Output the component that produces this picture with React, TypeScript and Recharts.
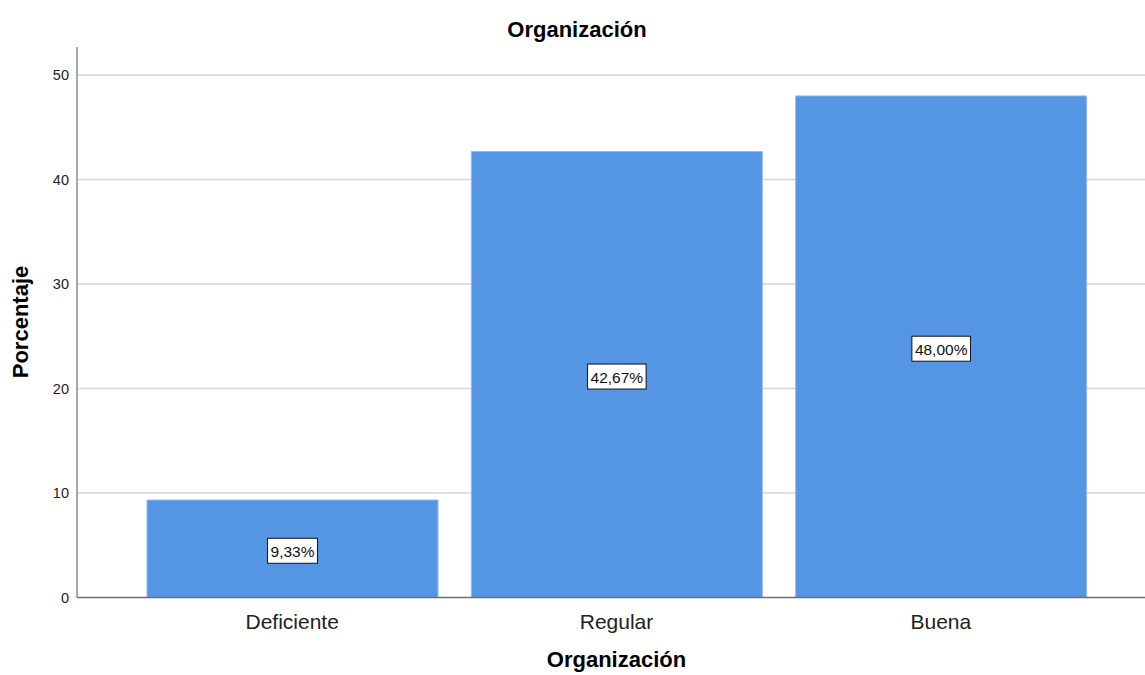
import React from 'react';
import {
  BarChart,
  Bar,
  XAxis,
  YAxis,
  CartesianGrid,
  LabelList,
  Label
} from 'recharts';

// Percent of responses per rating level
const categories = ['Deficiente', 'Regular', 'Buena'];
const percentages = [9.33, 42.67, 48.0];
const yTicks = [0, 10, 20, 30, 40, 50];
const gridValues = [10, 20, 30, 40, 50];

const FONT = 'Arial, "Liberation Sans", sans-serif';
const BAR_COLOR = '#5596e4';
const PAD_LEFT = 53;
const PAD_RIGHT = 42;

const data = categories.map((name, i) => ({ name, value: percentages[i] }));

const formatPct = (v: number): string => `${v.toFixed(2).replace('.', ',')}%`;

// measure label text so the white box hugs it
const measure = (text: string, size: number): number => {
  const ctx = document.createElement('canvas').getContext('2d');
  if (!ctx) return text.length * size * 0.56;
  ctx.font = `${size}px ${FONT}`;
  return ctx.measureText(text).width;
};

const BoxLabel = (props: any) => {
  const { x, y, width, height, value } = props;
  const text = formatPct(Number(value));
  const fs = 15.5;
  const w = measure(text, fs) + 6;
  const h = 25;
  const cx = Number(x) + Number(width) / 2;
  const cy = Number(y) + Number(height) / 2 + 2;
  return (
    <g>
      <rect x={cx - w / 2} y={cy - h / 2} width={w} height={h} fill="#fff" stroke="#111" strokeWidth={1} />
      <text x={cx} y={cy + 1} textAnchor="middle" dominantBaseline="central" fontFamily={FONT} fontSize={fs} fill="#111">
        {text}
      </text>
    </g>
  );
};

const XTitle = (props: any) => {
  const vb = props.viewBox || {};
  const cx = vb.x + PAD_LEFT + (vb.width - PAD_LEFT - PAD_RIGHT) / 2;
  return (
    <text x={cx} y={667} textAnchor="middle" fontFamily={FONT} fontSize={22} fontWeight="bold" fill="#000">
      Organización
    </text>
  );
};

const YTitle = () => (
  <text
    x={28}
    y={322}
    transform="rotate(-90, 28, 322)"
    textAnchor="middle"
    fontFamily={FONT}
    fontSize={22}
    fontWeight="bold"
    fill="#000"
  >
    Porcentaje
  </text>
);

const App: React.FC = () => {
  return (
    <div style={{ position: 'absolute', left: 0, top: 0, width: 1145, height: 675, background: '#fff' }}>
      <div
        style={{
          position: 'absolute',
          left: 0,
          top: 19,
          width: 1154,
          textAlign: 'center',
          fontFamily: FONT,
          fontSize: 22,
          lineHeight: '22px',
          fontWeight: 'bold',
          color: '#000'
        }}
      >
        Organización
      </div>
      <BarChart
        width={1145}
        height={675}
        data={data}
        margin={{ top: 47, right: 0, bottom: 47.5, left: 17 }}
        barSize={291}
      >
        <CartesianGrid vertical={false} horizontalValues={gridValues} stroke="#d5d5d5" strokeWidth={1.5} />
        <XAxis
          dataKey="name"
          height={30}
          padding={{ left: PAD_LEFT, right: PAD_RIGHT }}
          axisLine={{ stroke: '#6f6f6f', strokeWidth: 1.5 }}
          tickLine={false}
          tickMargin={11}
          tick={{ fontFamily: FONT, fontSize: 21, fill: '#222' }}
        >
          <Label content={<XTitle />} />
        </XAxis>
        <YAxis
          width={60}
          domain={[0, 52.68]}
          ticks={yTicks}
          axisLine={{ stroke: '#8a8a8a', strokeWidth: 1.5 }}
          tickLine={false}
          tick={{ fontFamily: FONT, fontSize: 14.5, fill: '#222' }}
        >
          <Label content={<YTitle />} />
        </YAxis>
        <Bar dataKey="value" fill={BAR_COLOR} stroke="#93baec" strokeWidth={1} isAnimationActive={false}>
          <LabelList dataKey="value" content={<BoxLabel />} />
        </Bar>
      </BarChart>
    </div>
  );
};

export default App;
